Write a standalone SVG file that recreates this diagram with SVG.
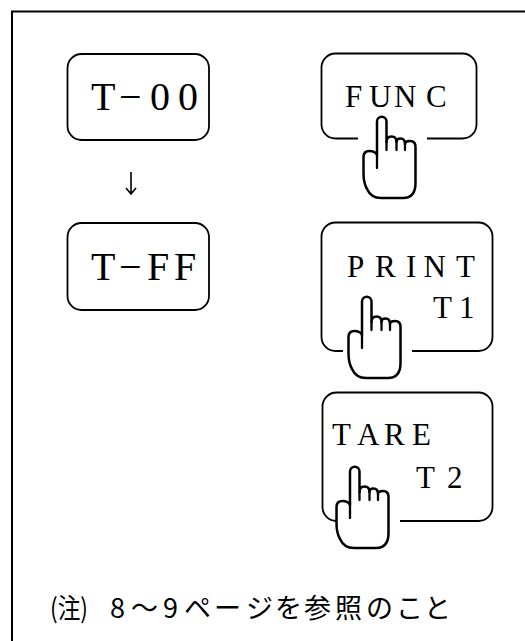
<svg xmlns="http://www.w3.org/2000/svg" width="525" height="641" viewBox="0 0 525 641">
<defs>
<style>
.frame{fill:none;stroke:#000;stroke-width:2}
.box{fill:none;stroke:#000;stroke-width:1.8;stroke-linejoin:round}
.hand{fill:#fff;stroke:#000;stroke-width:2.5;stroke-linejoin:round;stroke-linecap:round}
.handline{fill:none;stroke:#000;stroke-width:2.3;stroke-linecap:round}
.lbl{font-family:"Liberation Serif","Times New Roman",serif;fill:#000}
.big{font-size:40px}
.mid{font-size:31px}
.note{font-family:"Noto Sans CJK JP","Noto Sans",sans-serif;font-size:27px;fill:#000}
.conn{fill:none;stroke:#000;stroke-width:1.6;stroke-linejoin:miter}
</style>
<g id="handshape">
<path class="hand" d="M0,38 L0,4.5 A4.5,4.5 0 0 1 9.5,4.5 L9.5,25 Q9.5,19.5 14.5,19.5 Q19.5,19.5 19.5,25 Q19.5,21.5 23.5,21.5 Q28,21.5 28,27 Q28,24 33,24 Q38.5,24 38.5,30 L38.5,66 Q38.5,81 26,81 L4,81 Q-6,81 -10,72 Q-13.5,66 -13.5,56 L-13.5,40 Q-13.5,34 -7.5,34 Q-2,34 0,38 Z"/>
<path class="handline" d="M0,38 L0,51 M9.5,25 L9.5,33 M19.5,25 L19.5,33 M28,27 L28,33"/>
</g>
</defs>
<rect width="525" height="641" fill="#fff"/>
<path class="frame" d="M12,641 L12,11.5 L525,11.5"/>

<g id="node-t00">
<rect class="box" x="67.5" y="54" width="141.5" height="86" rx="14"/>
<text class="lbl big" x="91 119 150 178" y="110">T−00</text>
</g>

<g id="node-tff">
<rect class="box" x="67.5" y="223" width="141.5" height="87" rx="14"/>
<text class="lbl big" x="91 119 147 174" y="280">T−FF</text>
</g>

<g id="node-func">
<path class="box" d="M358,138.5 L335.5,138.5 A14,14 0 0 1 321.5,124.5 L321.5,67.5 A14,14 0 0 1 335.5,53.5 L462.5,53.5 A14,14 0 0 1 476.5,67.5 L476.5,124.5 A14,14 0 0 1 462.5,138.5 L427,138.5"/>
<text class="lbl mid" x="345 369 394 426" y="107">FUNC</text>
<use href="#handshape" x="377" y="117"/>
</g>

<g id="node-print">
<path class="box" d="M343,351 L335.5,351 A14,14 0 0 1 321.5,337 L321.5,236.5 A14,14 0 0 1 335.5,222.5 L478.5,222.5 A14,14 0 0 1 492.5,236.5 L492.5,337 A14,14 0 0 1 478.5,351 L412,351"/>
<text class="lbl mid" x="347 375 406 423.5 456" y="277">PRINT</text>
<text class="lbl mid" x="433 459" y="318">T1</text>
<use href="#handshape" x="362" y="297"/>
</g>

<g id="node-tare">
<path class="box" d="M336.5,521 A14,14 0 0 1 322.5,507 L322.5,406.5 A14,14 0 0 1 336.5,392.5 L478.5,392.5 A14,14 0 0 1 492.5,406.5 L492.5,507 A14,14 0 0 1 478.5,521 L400,521"/>
<text class="lbl mid" x="332 357 384 412" y="445">TARE</text>
<text class="lbl mid" x="416 447" y="488">T2</text>
<use href="#handshape" x="350" y="467"/>
</g>

<g id="connectors">
<path class="conn" d="M131,172 L131,193.5 M126,188 L131,194 L136,188"/>
</g>

<g id="note">
<text class="note" x="50" y="618" textLength="38" lengthAdjust="spacingAndGlyphs">(注)</text>
<text class="note" x="110 131 163 184 214 246 275 304 335 366 396 424" y="618">8～9ページを参照のこと</text>
</g>
</svg>
